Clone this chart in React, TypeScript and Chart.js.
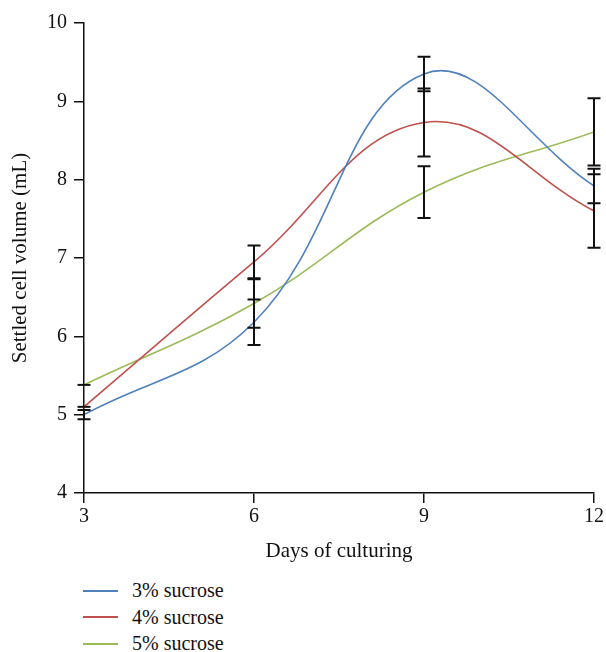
import React, { useEffect, useRef } from "react";
import { Chart, registerables } from "chart.js";

Chart.register(...registerables);

const days = [3, 6, 9, 12];
const seriesLabels = ["3% sucrose", "4% sucrose", "5% sucrose"];
const sucrose3 = [5.0, 6.18, 9.35, 7.92];
const sucrose4 = [5.1, 6.95, 8.73, 7.6];
const sucrose5 = [5.38, 6.42, 7.84, 8.61];
const err3 = [0.06, 0.29, 0.22, 0.22];
const err4 = [0.0, 0.21, 0.435, 0.47];
const err5 = [0.0, 0.31, 0.33, 0.43];
const colors = ["#4F81BD", "#C0504D", "#9BBB59"];
const yTicks = [4, 5, 6, 7, 8, 9, 10];
const xTicks = [3, 6, 9, 12];

const FONT = "'Liberation Serif', 'Times New Roman', serif";

const seriesValues = [sucrose3, sucrose4, sucrose5];
const seriesErrors = [err3, err4, err5];

const errorBarPlugin = {
  id: "errorBars",
  afterDatasetsDraw(chart: any) {
    const ctx = chart.ctx;
    const xs = chart.scales.x;
    const ys = chart.scales.y;
    ctx.save();
    ctx.strokeStyle = "#111";
    ctx.lineWidth = 2;
    seriesValues.forEach((vals, si) => {
      const errs = seriesErrors[si];
      vals.forEach((v, i) => {
        const x = xs.getPixelForValue(days[i]);
        const yt = ys.getPixelForValue(v + errs[i]);
        const yb = ys.getPixelForValue(v - errs[i]);
        const hw = 6.5;
        ctx.beginPath();
        ctx.moveTo(x, yt);
        ctx.lineTo(x, yb);
        ctx.moveTo(x - hw, yt);
        ctx.lineTo(x + hw, yt);
        if (errs[i] > 0) {
          ctx.moveTo(x - hw, yb);
          ctx.lineTo(x + hw, yb);
        }
        ctx.stroke();
      });
    });
    ctx.restore();
  },
};

export default function App() {
  const ref = useRef<HTMLCanvasElement | null>(null);

  useEffect(() => {
    if (!ref.current) return;
    const chart = new Chart(ref.current, {
      type: "line",
      data: {
        datasets: seriesValues.map((vals, si) => ({
          label: seriesLabels[si],
          data: vals.map((v, i) => ({ x: days[i], y: v })),
          borderColor: colors[si],
          backgroundColor: colors[si],
          borderWidth: 1.6,
          pointRadius: 0,
          tension: 0.4,
          fill: false,
        })),
      },
      options: {
        animation: false,
        responsive: true,
        maintainAspectRatio: false,
        layout: { padding: { top: 23, right: 12, left: 0, bottom: 0 } },
        plugins: {
          legend: { display: false },
          tooltip: { enabled: false },
        },
        scales: {
          x: {
            type: "linear",
            min: 3,
            max: 12,
            afterFit: (s: any) => {
              s.height = 77;
            },
            afterBuildTicks: (s: any) => {
              s.ticks = xTicks.map((v) => ({ value: v }));
            },
            ticks: {
              font: { family: FONT, size: 20 },
              color: "#111",
              padding: 2,
            },
            grid: {
              drawOnChartArea: false,
              drawTicks: true,
              tickLength: 10,
              color: "#111",
              lineWidth: 1.5,
            },
            border: { color: "#111", width: 1.5 },
            title: {
              display: true,
              text: "Days of culturing",
              font: { family: FONT, size: 21 },
              color: "#111",
              padding: { top: 0, bottom: 6.4 },
            },
          },
          y: {
            min: 4,
            max: 10,
            afterFit: (s: any) => {
              s.width = 84;
            },
            afterBuildTicks: (s: any) => {
              s.ticks = yTicks.map((v) => ({ value: v }));
            },
            ticks: {
              font: { family: FONT, size: 20 },
              color: "#111",
              padding: 7,
            },
            grid: {
              drawOnChartArea: false,
              drawTicks: true,
              tickLength: 10,
              color: "#111",
              lineWidth: 1.5,
            },
            border: { color: "#111", width: 1.5 },
            title: {
              display: true,
              text: "Settled cell volume (mL)",
              font: { family: FONT, size: 21 },
              color: "#111",
              padding: { top: 7.4, bottom: 0 },
            },
          },
        },
      },
      plugins: [errorBarPlugin],
    });
    return () => chart.destroy();
  }, []);

  return (
    <div style={{ position: "absolute", left: 0, top: 0, width: 606, height: 652, background: "#fff" }}>
      <div style={{ position: "absolute", left: 0, top: 0, width: 606, height: 570 }}>
        <canvas ref={ref} />
      </div>
      <div style={{ position: "absolute", left: 83, top: 577.3 }}>
        {seriesLabels.map((lab, i) => (
          <div
            key={lab}
            style={{
              display: "flex",
              alignItems: "center",
              height: 26.5,
              lineHeight: "26.5px",
              fontFamily: FONT,
              fontSize: 20,
              color: "#111",
              whiteSpace: "nowrap",
            }}
          >
            <div style={{ width: 35, height: 2, background: colors[i], marginRight: 14 }} />
            <span>{lab}</span>
          </div>
        ))}
      </div>
    </div>
  );
}
